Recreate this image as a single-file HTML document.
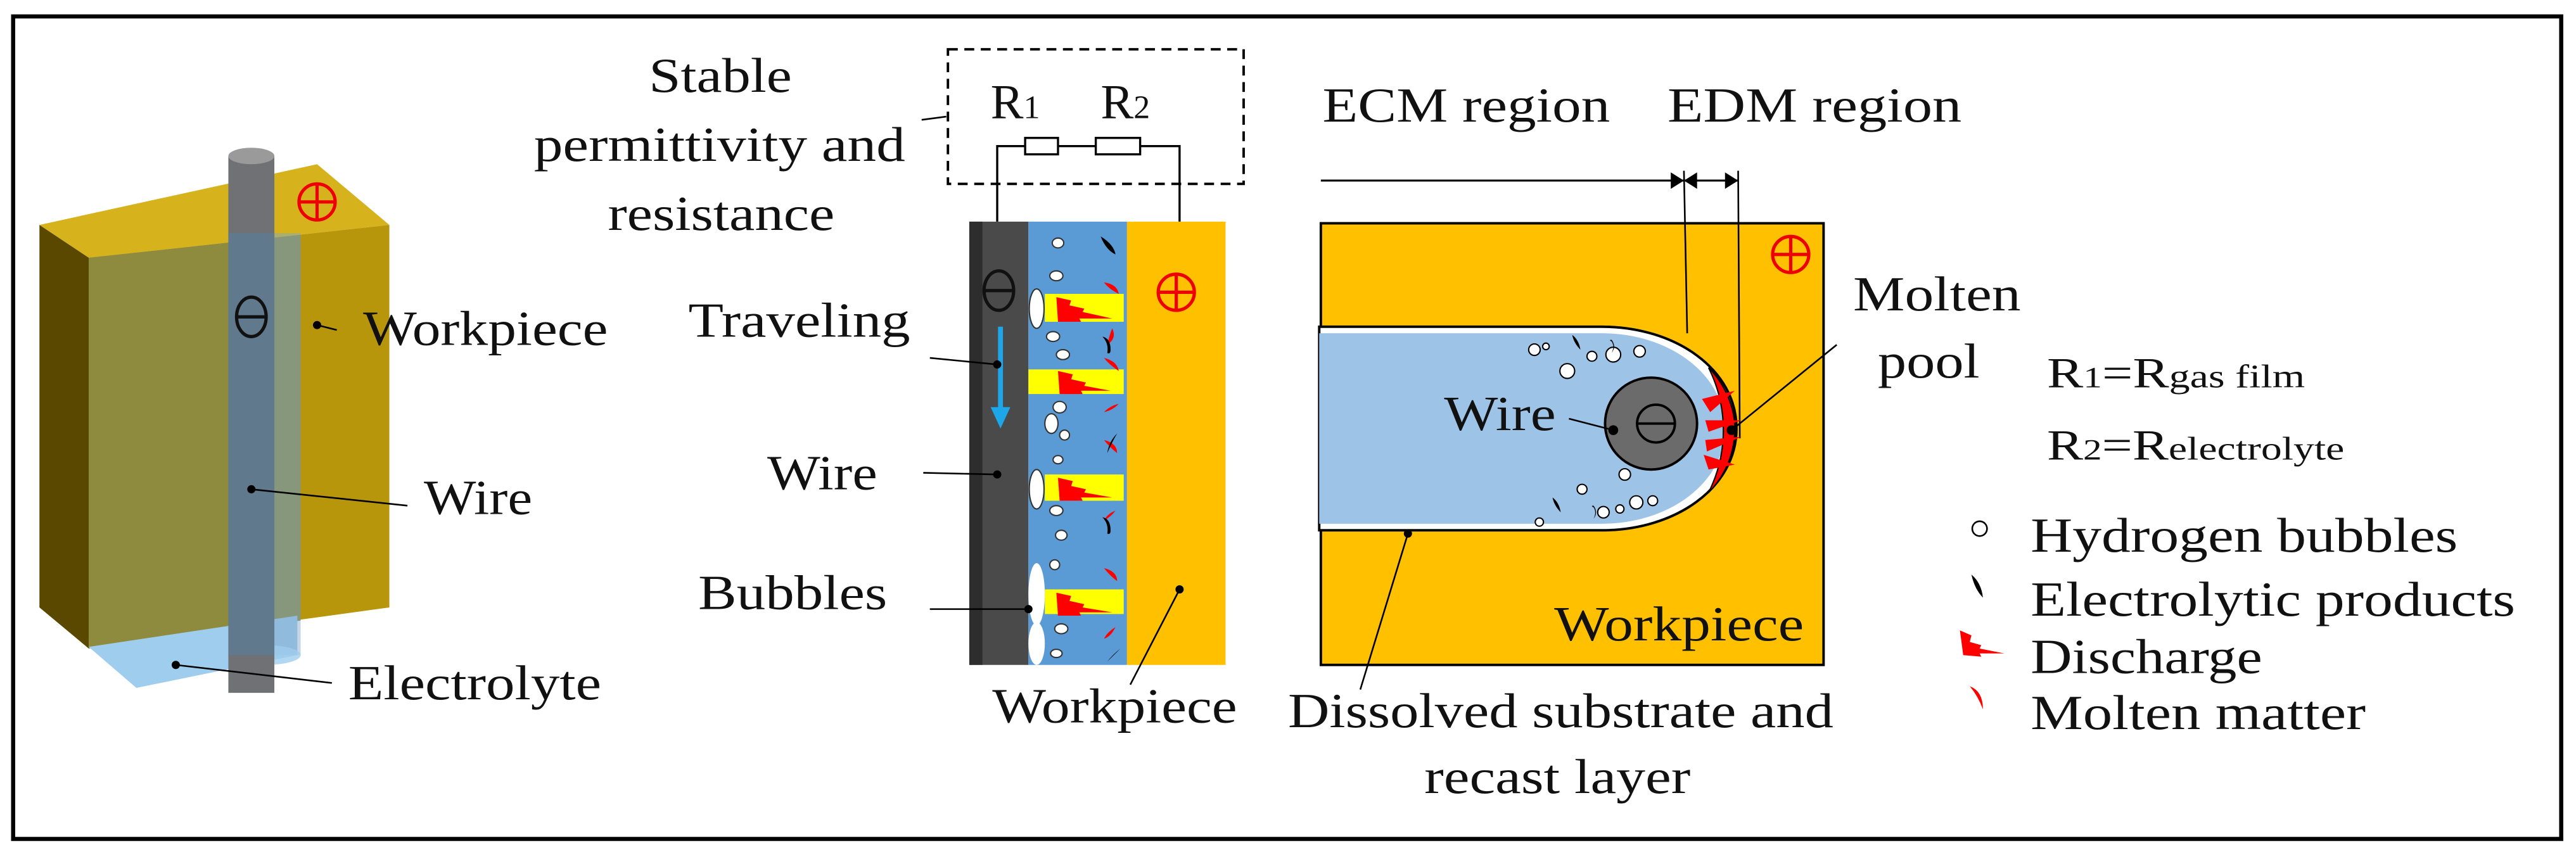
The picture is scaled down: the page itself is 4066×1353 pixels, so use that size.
<!DOCTYPE html>
<html><head><meta charset="utf-8"><style>
html,body{margin:0;padding:0;background:#fff}
svg{display:block}
svg text{font-family:"Liberation Serif","Times New Roman","DejaVu Serif",serif;fill:#111}
</style></head><body>
<svg width="4066" height="1353" viewBox="0 0 1568 522" preserveAspectRatio="none" xmlns="http://www.w3.org/2000/svg" font-family="Liberation Serif, Times New Roman, DejaVu Serif, serif">
<rect x="0" y="0" width="1568" height="522" fill="#fff"/>
<rect x="8" y="10" width="1551" height="501" fill="none" stroke="#000" stroke-width="2.5"/>

<!-- LEFT PANEL -->
<polygon points="24,137 193,100 237,137 54,157" fill="#d6b21c"/>
<polygon points="24,137 54,157 54,395 24,370" fill="#5a4800"/>
<polygon points="54,157 237,137 237,370 54,395" fill="#b8960c"/>
<polygon points="54,157 183,143 183,378 54,395" fill="#8e8a3e"/>
<polygon points="54,394 83,419 181,399 181,375" fill="#9fcdee"/>
<rect x="141" y="142" width="42" height="257" fill="#7fa7c8" opacity="0.45"/>
<ellipse cx="162" cy="399" rx="21" ry="6" fill="#9fcdee" opacity="0.8"/>
<rect x="139" y="95" width="28" height="327" fill="#6f7174"/>
<rect x="139" y="142" width="28" height="257" fill="#5f7a90" opacity="0.9"/>
<ellipse cx="153" cy="95" rx="14" ry="5" fill="#9a9a9a"/>
<ellipse cx="153" cy="193" rx="9" ry="12" fill="none" stroke="#111" stroke-width="2"/>
<line x1="144" y1="193" x2="162" y2="193" stroke="#111" stroke-width="2"/>
<circle cx="193" cy="123" r="11" fill="none" stroke="#e00" stroke-width="2"/>
<line x1="182" y1="123" x2="204" y2="123" stroke="#e00" stroke-width="2"/>
<line x1="193" y1="112" x2="193" y2="134" stroke="#e00" stroke-width="2"/>
<circle cx="193" cy="198" r="2.5" fill="#000"/><line x1="193" y1="198" x2="205" y2="201" stroke="#000"/>
<circle cx="153" cy="298" r="2.5" fill="#000"/><line x1="153" y1="298" x2="248" y2="308" stroke="#000"/>
<circle cx="107" cy="405" r="2.5" fill="#000"/><line x1="107" y1="405" x2="202" y2="416" stroke="#000"/>
<text x="221" y="210" font-size="30" textLength="149" lengthAdjust="spacingAndGlyphs">Workpiece</text>
<text x="258" y="313" font-size="30" textLength="66" lengthAdjust="spacingAndGlyphs">Wire</text>
<text x="212" y="426" font-size="30" textLength="154" lengthAdjust="spacingAndGlyphs">Electrolyte</text>

<!-- MIDDLE PANEL -->
<text x="395" y="56" font-size="30" textLength="87" lengthAdjust="spacingAndGlyphs">Stable</text>
<text x="325" y="98" font-size="30" textLength="226" lengthAdjust="spacingAndGlyphs">permittivity and</text>
<text x="370" y="140" font-size="30" textLength="138" lengthAdjust="spacingAndGlyphs">resistance</text>
<line x1="561" y1="73" x2="576" y2="71" stroke="#000"/>
<rect x="577" y="30" width="180" height="82" fill="none" stroke="#000" stroke-width="1.5" stroke-dasharray="6,4"/>
<text x="603" y="72" font-size="30">R<tspan font-size="20">1</tspan></text>
<text x="670" y="72" font-size="30">R<tspan font-size="20">2</tspan></text>
<polyline points="607,135 607,89 624,89" fill="none" stroke="#000" stroke-width="1.3"/>
<rect x="624" y="84" width="20" height="10" fill="#fff" stroke="#000" stroke-width="1.3"/>
<line x1="644" y1="89" x2="667" y2="89" stroke="#000" stroke-width="1.3"/>
<rect x="667" y="84" width="27" height="10" fill="#fff" stroke="#000" stroke-width="1.3"/>
<polyline points="694,89 718,89 718,135" fill="none" stroke="#000" stroke-width="1.3"/>

<rect x="590" y="135" width="36" height="270" fill="#4a4a4a"/>
<rect x="590" y="135" width="8" height="270" fill="#2d2d2d"/>
<rect x="626" y="135" width="60" height="270" fill="#5b9bd5"/>
<rect x="686" y="135" width="60" height="270" fill="#ffc000"/>
<g fill="#ffff00">
<rect x="636" y="179" width="48" height="17"/><rect x="626" y="225" width="58" height="15"/>
<rect x="636" y="289" width="48" height="16"/><rect x="636" y="359" width="48" height="15"/>
</g>
<g fill="#f00">
<polygon points="643,181 652,183 651,186 660,188 659,190 677,194 657,194 658,196 644,196"/>
<polygon points="644,226 653,228 652,231 661,233 660,235 676,238 658,238 659,240 645,240"/>
<polygon points="644,291 653,293 652,296 661,298 660,300 677,303 658,303 659,305 645,305"/>
<polygon points="643,361 652,363 651,366 660,368 659,370 677,373 657,373 658,375 644,375"/>
<path d="M672,172 q8,1 9,7 q-6,-3 -9,-7z"/><path d="M677,200 q3,6 -3,10 q1,-5 3,-10z"/>
<path d="M672,218 q8,2 9,8 q-6,-4 -9,-8z"/><path d="M681,246 q-4,4 -9,5 q4,-4 9,-5z"/>
<path d="M672,268 q8,2 8,8 q-5,-4 -8,-8z"/><path d="M679,311 q-3,4 -7,6 q2,-4 7,-6z"/>
<path d="M672,346 q8,2 8,8 q-5,-4 -8,-8z"/><path d="M679,382 q-3,6 -7,7 q2,-4 7,-7z"/>
</g>
<g fill="#000">
<path d="M670,144 q8,5 9,11 q-6,-3 -9,-11z"/><path d="M680,264 q-5,5 -6,12 q3,-7 6,-12z"/>
<path d="M682,395 q-5,4 -8,8 q4,-4 8,-8z"/>
<path d="M671,205 q5,1 5,8 q0,3 -2,2 q1,-6 -3,-10z"/><path d="M671,315 q5,1 5,8 q0,3 -2,2 q1,-6 -3,-10z"/>
</g>
<g fill="#fff" stroke="#333" stroke-width="0.8">
<ellipse cx="631" cy="188" rx="4.5" ry="12"/><ellipse cx="631" cy="298" rx="4.5" ry="12"/>
<ellipse cx="631" cy="362" rx="5" ry="19" stroke="none"/><ellipse cx="631" cy="392" rx="5" ry="13" stroke="none"/>
<ellipse cx="644" cy="148" rx="3.5" ry="3"/><ellipse cx="643" cy="168" rx="4" ry="3"/>
<ellipse cx="641" cy="205" rx="4" ry="3"/><ellipse cx="647" cy="216" rx="4" ry="3"/>
<ellipse cx="645" cy="248" rx="4" ry="3.5"/><ellipse cx="640" cy="258" rx="4" ry="6"/>
<ellipse cx="648" cy="265" rx="3" ry="3"/><ellipse cx="644" cy="280" rx="3" ry="2.5"/>
<ellipse cx="643" cy="311" rx="4" ry="3"/><ellipse cx="646" cy="326" rx="3.5" ry="3"/>
<ellipse cx="642" cy="344" rx="3" ry="3"/><ellipse cx="646" cy="383" rx="4" ry="3"/>
<ellipse cx="643" cy="398" rx="3.5" ry="2.5"/>
</g>
<ellipse cx="608" cy="177" rx="9" ry="12" fill="none" stroke="#111" stroke-width="2"/>
<line x1="599" y1="177" x2="617" y2="177" stroke="#111" stroke-width="2"/>
<circle cx="716" cy="178" r="11" fill="none" stroke="#e00" stroke-width="2"/>
<line x1="705" y1="178" x2="727" y2="178" stroke="#e00" stroke-width="2"/>
<line x1="716" y1="167" x2="716" y2="189" stroke="#e00" stroke-width="2"/>
<line x1="609" y1="199" x2="609" y2="250" stroke="#1ea7e8" stroke-width="3"/>
<polygon points="603,248 615,248 609,261" fill="#1ea7e8"/>
<circle cx="607" cy="222" r="2.5" fill="#000"/><line x1="566" y1="218" x2="607" y2="222" stroke="#000"/>
<circle cx="607" cy="289" r="2.5" fill="#000"/><line x1="562" y1="288" x2="607" y2="289" stroke="#000"/>
<circle cx="626" cy="371" r="2.5" fill="#000"/><line x1="566" y1="371" x2="626" y2="371" stroke="#000"/>
<circle cx="718" cy="359" r="2.5" fill="#000"/><line x1="718" y1="359" x2="688" y2="417" stroke="#000"/>
<text x="419" y="205" font-size="30" textLength="135" lengthAdjust="spacingAndGlyphs">Traveling</text>
<text x="467" y="298" font-size="30" textLength="67" lengthAdjust="spacingAndGlyphs">Wire</text>
<text x="425" y="371" font-size="30" textLength="115" lengthAdjust="spacingAndGlyphs">Bubbles</text>
<text x="604" y="440" font-size="30" textLength="149" lengthAdjust="spacingAndGlyphs">Workpiece</text>

<!-- RIGHT PANEL -->
<text x="805" y="74" font-size="30" textLength="175" lengthAdjust="spacingAndGlyphs">ECM region</text>
<text x="1015" y="74" font-size="30" textLength="179" lengthAdjust="spacingAndGlyphs">EDM region</text>
<rect x="804" y="136" width="306" height="269" fill="#ffc000" stroke="#000" stroke-width="1.5"/>
<path d="M803,199 L975,199 C1020,199 1057,225 1057,261 C1057,297 1020,323 975,323 L803,323 Z" fill="#fff" stroke="#000" stroke-width="1.5"/>
<path d="M803,203 L975,203 C1016,203 1050,228 1050,261 C1050,294 1016,319 975,319 L803,319 Z" fill="#9dc3e6"/>
<path d="M1040,224 C1050,234 1056,248 1056,261 C1056,276 1050,290 1040,300 C1046,288 1049,275 1049,262 C1049,249 1046,236 1040,224Z" fill="#f00" stroke="#000" stroke-width="0.8"/>
<line x1="804" y1="110" x2="1058" y2="110" stroke="#000" stroke-width="1.2"/>
<polygon points="1017,105 1025,110 1017,115" fill="#000"/>
<polygon points="1033,105 1025,110 1033,115" fill="#000"/>
<polygon points="1050,105 1058,110 1050,115" fill="#000"/>
<line x1="1025" y1="104" x2="1027" y2="203" stroke="#000"/>
<line x1="1058" y1="104" x2="1059" y2="267" stroke="#000"/>
<circle cx="1005" cy="258" r="28" fill="#6b6b6b" stroke="#000" stroke-width="1.5"/>
<circle cx="1008" cy="258" r="11.5" fill="none" stroke="#000" stroke-width="1.5"/>
<line x1="997" y1="258" x2="1019" y2="258" stroke="#000" stroke-width="1.5"/>
<g fill="#f00">
<polygon points="1036,243 1056,238 1041,251"/><polygon points="1038,256 1060,256 1040,263"/>
<polygon points="1038,268 1060,266 1039,275"/><polygon points="1037,277 1056,283 1040,286"/>
</g>
<g fill="#fff" stroke="#000" stroke-width="0.8">
<circle cx="934" cy="213" r="3.5"/><circle cx="954" cy="226" r="4.5"/><circle cx="969" cy="217" r="3"/>
<circle cx="982" cy="216" r="4.5"/><circle cx="998" cy="214" r="3.5"/>
<circle cx="989" cy="289" r="3.5"/><circle cx="963" cy="298" r="3"/><circle cx="1006" cy="305" r="3"/>
<circle cx="976" cy="312" r="3.5"/><circle cx="986" cy="310" r="2.5"/><circle cx="996" cy="306" r="4"/>
<circle cx="941" cy="211" r="2"/><circle cx="937" cy="318" r="2.5"/>
</g>
<g fill="#000">
<path d="M957,204 q4,3 5,9 q-4,-4 -5,-9z"/><path d="M945,303 q4,3 5,9 q-4,-4 -5,-9z"/>
<path d="M981,215 q3,-4 0,-8 q-2,0 0,1 q2,3 0,7z"/><path d="M970,316 q3,-4 0,-8 q-2,0 0,1 q2,3 0,7z"/>
</g>
<circle cx="1090" cy="155" r="11" fill="none" stroke="#e00" stroke-width="2"/>
<line x1="1079" y1="155" x2="1101" y2="155" stroke="#e00" stroke-width="2"/>
<line x1="1090" y1="144" x2="1090" y2="166" stroke="#e00" stroke-width="2"/>
<circle cx="982" cy="262" r="3" fill="#000"/><line x1="955" y1="255" x2="982" y2="262" stroke="#000"/>
<circle cx="1054" cy="262" r="3" fill="#000"/><line x1="1054" y1="262" x2="1118" y2="210" stroke="#000"/>
<circle cx="857" cy="325" r="2.5" fill="#000"/><line x1="857" y1="325" x2="828" y2="420" stroke="#000"/>
<text x="879" y="262" font-size="30" textLength="68" lengthAdjust="spacingAndGlyphs">Wire</text>
<text x="946" y="390" font-size="30" textLength="152" lengthAdjust="spacingAndGlyphs">Workpiece</text>
<text x="1128" y="189" font-size="30" textLength="102" lengthAdjust="spacingAndGlyphs">Molten</text>
<text x="1143" y="230" font-size="30" textLength="62" lengthAdjust="spacingAndGlyphs">pool</text>
<text x="784" y="443" font-size="30" textLength="332" lengthAdjust="spacingAndGlyphs">Dissolved substrate and</text>
<text x="867" y="483" font-size="30" textLength="162" lengthAdjust="spacingAndGlyphs">recast layer</text>
<text x="1246" y="236" font-size="26" textLength="157" lengthAdjust="spacingAndGlyphs">R<tspan font-size="18">1</tspan>=R<tspan font-size="20">gas film</tspan></text>
<text x="1246" y="280" font-size="26" textLength="181" lengthAdjust="spacingAndGlyphs">R<tspan font-size="18">2</tspan>=R<tspan font-size="20">electrolyte</tspan></text>
<circle cx="1205" cy="322" r="4.5" fill="#fff" stroke="#000" stroke-width="1"/>
<path d="M1200,350 q6,5 7,14 q-5,-5 -7,-14z" fill="#000"/>
<polygon points="1193,384 1200,387 1199,391 1206,393 1205,395 1220,398 1205,398 1206,400 1195,399" fill="#f00"/>
<path d="M1199,418 q8,3 8,14 q-3,-8 -8,-14z" fill="#f00"/>
<text x="1236" y="336" font-size="30" textLength="260" lengthAdjust="spacingAndGlyphs">Hydrogen bubbles</text>
<text x="1236" y="375" font-size="30" textLength="295" lengthAdjust="spacingAndGlyphs">Electrolytic products</text>
<text x="1236" y="410" font-size="30" textLength="141" lengthAdjust="spacingAndGlyphs">Discharge</text>
<text x="1236" y="444" font-size="30" textLength="204" lengthAdjust="spacingAndGlyphs">Molten matter</text>
</svg>
</body></html>
